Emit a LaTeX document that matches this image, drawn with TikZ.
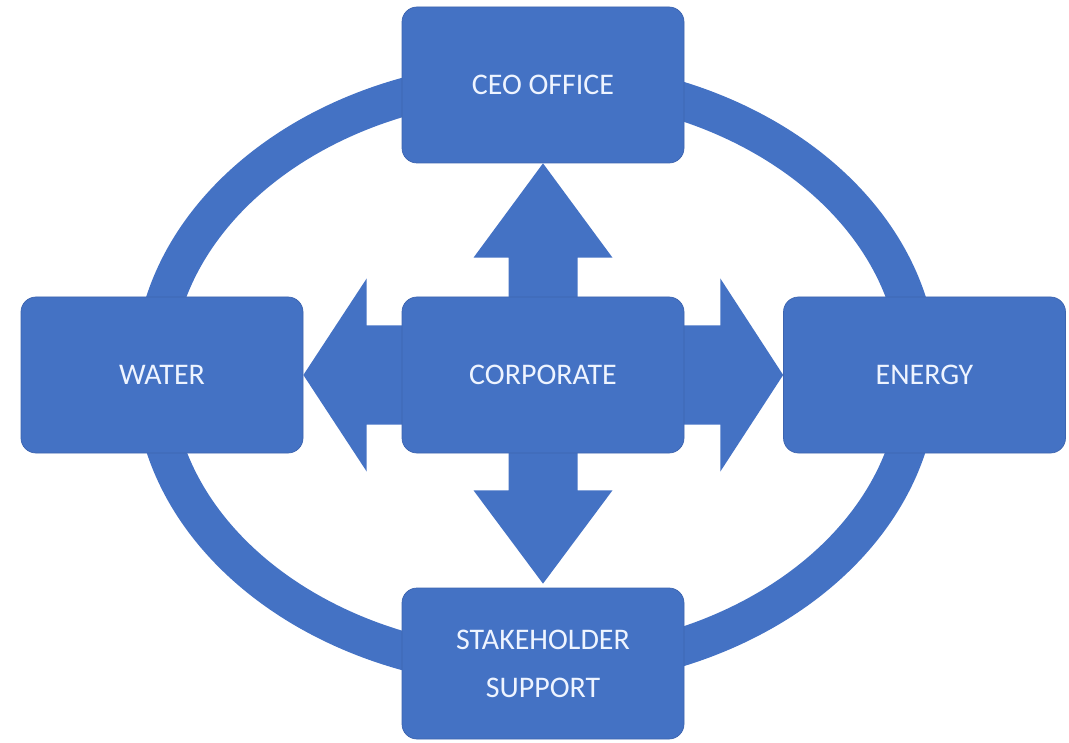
\documentclass[tikz,border=0pt]{standalone}
\usepackage{fontspec}
\setsansfont{Carlito}
\usetikzlibrary{calc,backgrounds}

\begin{document}
\begin{tikzpicture}[font=\sffamily]

      % Colors: office blue and near-white text
      \definecolor{unitblue}{RGB}{68,114,196}
      \definecolor{unitedge}{RGB}{60,100,175}
      \definecolor{labelwhite}{RGB}{238,244,255}

      \tikzset{
        unitbox/.style={rounded corners=0.375cm, fill=unitblue, draw=unitedge, line width=0.5pt,
          minimum width=7.05cm, minimum height=3.9cm, text=labelwhite, align=center,
          font=\sffamily\fontsize{21.3}{34}\selectfont}
      }

      \useasboundingbox (0,0) rectangle (26.725,18.55);

      % --- the five boxes ---
      \node[unitbox] (ceo) at (13.575,16.425) {CEO OFFICE};
      \node[unitbox] (water) at (4.05,9.175) {WATER};
      \node[unitbox] (corp) at (13.575,9.175) {CORPORATE};
      \node[unitbox] (energy) at (23.1125,9.175) {ENERGY};
      \node[unitbox, minimum height=3.775cm] (stake) at (13.575,1.9625) {STAKEHOLDER\\SUPPORT};

      \begin{scope}[on background layer]
        % outer ring behind the boxes
        \draw[unitblue, line width=0.95cm] (13.4,9.2) ellipse (9.575cm and 7.375cm);

        % up arrow: corporate -> ceo office
        \fill[unitblue] ($(corp.center)+(-0.8625,0)$) -- ($(corp.north)+(-0.8625,0.975)$)
          -- ($(corp.north)+(-1.7375,0.975)$) -- (ceo.south)
          -- ($(corp.north)+(1.7375,0.975)$) -- ($(corp.north)+(0.8625,0.975)$)
          -- ($(corp.center)+(0.8625,0)$) -- cycle;

        % down arrow: corporate -> stakeholder support
        \fill[unitblue] ($(corp.center)+(-0.8625,0)$) -- ($(corp.south)+(-0.8625,-0.925)$)
          -- ($(corp.south)+(-1.7375,-0.925)$) -- ($(stake.north)+(0,0.1)$)
          -- ($(corp.south)+(1.7375,-0.925)$) -- ($(corp.south)+(0.8625,-0.925)$)
          -- ($(corp.center)+(0.8625,0)$) -- cycle;

        % left arrow: corporate -> water
        \fill[unitblue] ($(corp.center)+(0,1.2375)$) -- ($(corp.west)+(-0.875,1.2375)$)
          -- ($(corp.west)+(-0.875,2.4125)$) -- (water.east)
          -- ($(corp.west)+(-0.875,-2.4125)$) -- ($(corp.west)+(-0.875,-1.2375)$)
          -- ($(corp.center)+(0,-1.2375)$) -- cycle;

        % right arrow: corporate -> energy
        \fill[unitblue] ($(corp.center)+(0,1.2375)$) -- ($(corp.east)+(0.9,1.2375)$)
          -- ($(corp.east)+(0.9,2.4125)$) -- (energy.west)
          -- ($(corp.east)+(0.9,-2.4125)$) -- ($(corp.east)+(0.9,-1.2375)$)
          -- ($(corp.center)+(0,-1.2375)$) -- cycle;
      \end{scope}

    \end{tikzpicture}
\end{document}
